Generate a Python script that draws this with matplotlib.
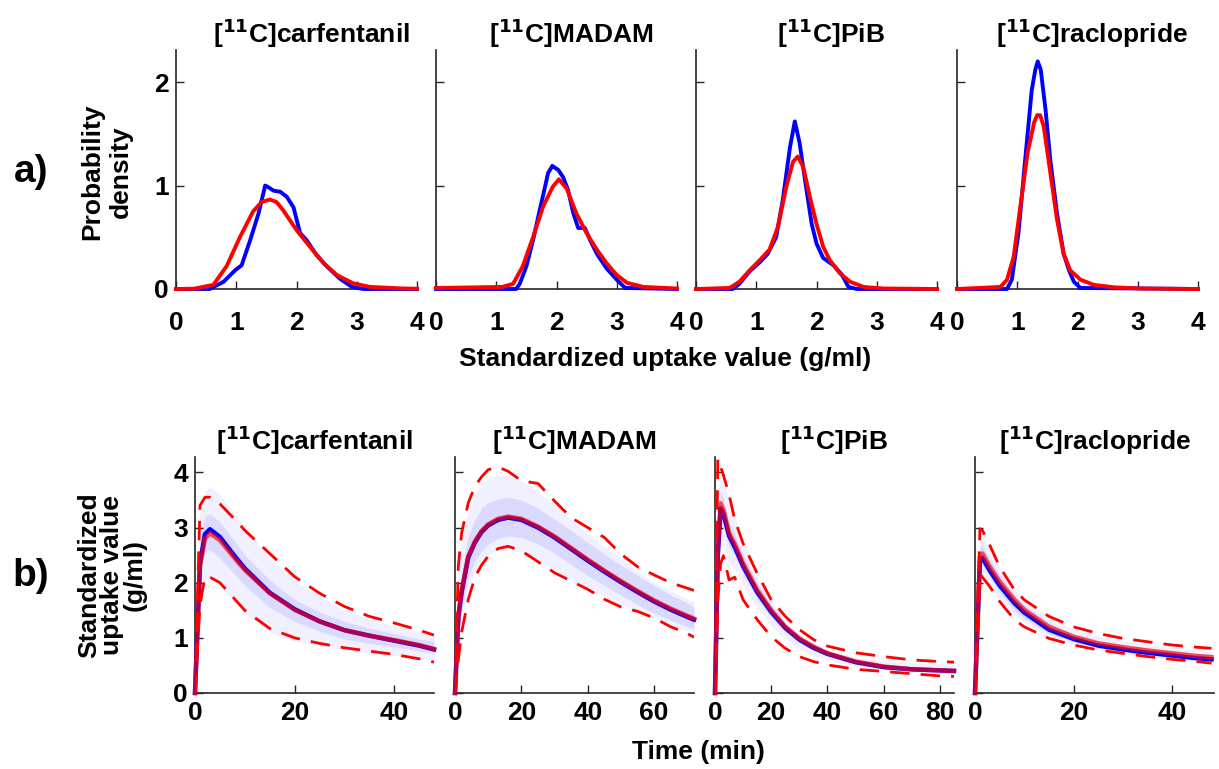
import matplotlib.pyplot as plt
import numpy as np

plt.rcParams['font.family'] = ['Liberation Sans', 'DejaVu Sans']

tracers = ["carfentanil", "MADAM", "PiB", "raclopride"]

# ---- a) SUV probability densities (blue = data, red = model) ----
pdf_blue_x = [
    [0, 0.56, 0.79, 0.98, 1.09, 1.23, 1.37, 1.48, 1.53, 1.62, 1.73, 1.84, 1.95, 2.06, 2.17, 2.33, 2.5, 2.72, 2.92, 3.11, 4.0],
    [0, 1.33, 1.39, 1.5, 1.61, 1.72, 1.78, 1.86, 1.93, 2.03, 2.11, 2.19, 2.28, 2.36, 2.47, 2.56, 2.67, 2.83, 3.0, 3.14, 4.0],
    [0, 0.61, 0.72, 0.89, 1.06, 1.19, 1.33, 1.44, 1.56, 1.64, 1.72, 1.81, 1.92, 2.0, 2.11, 2.28, 2.42, 2.53, 2.67, 4.0],
    [0, 0.83, 0.91, 1.02, 1.13, 1.24, 1.3, 1.34, 1.39, 1.47, 1.55, 1.66, 1.77, 1.86, 1.94, 2.05, 4.0],
]
pdf_blue_y = [
    [0, 0, 0.07, 0.18, 0.23, 0.47, 0.73, 1.0, 0.985, 0.95, 0.94, 0.89, 0.79, 0.54, 0.47, 0.33, 0.22, 0.10, 0.02, 0, 0],
    [0, 0, 0.05, 0.22, 0.47, 0.76, 0.91, 1.12, 1.19, 1.15, 1.08, 0.96, 0.73, 0.59, 0.59, 0.47, 0.34, 0.2, 0.09, 0.01, 0],
    [0, 0, 0.05, 0.17, 0.26, 0.34, 0.5, 0.86, 1.37, 1.62, 1.41, 1.05, 0.63, 0.44, 0.3, 0.23, 0.14, 0.02, 0, 0],
    [0, 0, 0.09, 0.54, 1.24, 1.92, 2.12, 2.2, 2.12, 1.73, 1.24, 0.73, 0.34, 0.18, 0.07, 0.01, 0],
]
pdf_red_x = [
    [0, 0.3, 0.62, 0.84, 1.06, 1.28, 1.42, 1.56, 1.67, 1.78, 2.0, 2.22, 2.45, 2.67, 2.94, 3.22, 3.77, 4.0],
    [0, 1.1, 1.28, 1.44, 1.61, 1.78, 1.94, 2.04, 2.17, 2.33, 2.5, 2.67, 2.83, 3.0, 3.17, 3.44, 4.0],
    [0, 0.56, 0.72, 0.89, 1.06, 1.22, 1.36, 1.5, 1.61, 1.69, 1.78, 1.89, 2.0, 2.11, 2.22, 2.39, 2.56, 2.78, 3.11, 4.0],
    [0, 0.72, 0.83, 0.94, 1.05, 1.17, 1.28, 1.33, 1.38, 1.44, 1.55, 1.66, 1.77, 1.88, 2.05, 2.27, 2.61, 3.05, 4.0],
]
pdf_red_y = [
    [0.0, 0.003, 0.04, 0.22, 0.5, 0.75, 0.84, 0.865, 0.84, 0.76, 0.57, 0.41, 0.25, 0.135, 0.055, 0.02, 0.005, 0.003],
    [0.01, 0.02, 0.05, 0.22, 0.5, 0.8, 0.99, 1.06, 0.97, 0.73, 0.54, 0.38, 0.25, 0.135, 0.06, 0.02, 0.005],
    [0.0, 0.01, 0.07, 0.18, 0.28, 0.38, 0.6, 0.99, 1.23, 1.28, 1.18, 0.89, 0.63, 0.41, 0.28, 0.15, 0.07, 0.02, 0.005, 0.0],
    [0, 0.02, 0.09, 0.31, 0.79, 1.31, 1.61, 1.68, 1.68, 1.57, 1.12, 0.67, 0.34, 0.18, 0.09, 0.04, 0.016, 0.005, 0],
]

# ---- b) time-activity curves ----
tac_time = [
    [0, 1, 2, 3, 5, 8, 10, 15, 20, 25, 30, 35, 40, 45, 48],
    [0, 1, 2, 4, 6, 8, 10, 13, 16, 20, 25, 30, 35, 40, 45, 50, 55, 60, 65, 70, 72],
    [0, 1, 2, 3, 5, 7, 10, 15, 20, 25, 30, 35, 40, 50, 60, 70, 80, 85],
    [0, 1, 1.5, 3, 5, 8, 10, 15, 20, 25, 30, 35, 40, 45, 48],
]
tac_xmax = [48, 72, 85, 48.5]
tac_xticks = [[0, 20, 40], [0, 20, 40, 60], [0, 20, 40, 60, 80], [0, 20, 40]]

tac_mean_blue = [
    [0, 2.35, 2.88, 2.97, 2.83, 2.48, 2.26, 1.82, 1.52, 1.30, 1.14, 1.04, 0.95, 0.86, 0.79],
    [0, 1.38, 1.83, 2.46, 2.73, 2.92, 3.04, 3.14, 3.18, 3.14, 3.0, 2.82, 2.61, 2.4, 2.2, 2.01, 1.83, 1.66, 1.51, 1.38, 1.33],
    [0, 2.5, 3.35, 3.25, 2.85, 2.65, 2.3, 1.83, 1.47, 1.18, 0.97, 0.82, 0.71, 0.56, 0.47, 0.43, 0.41, 0.40],
    [0, 2.4, 2.45, 2.22, 1.95, 1.63, 1.46, 1.15, 0.98, 0.86, 0.79, 0.73, 0.68, 0.63, 0.61],
]
tac_mean_red = [
    [0, 2.3, 2.8, 2.9, 2.77, 2.44, 2.23, 1.81, 1.51, 1.30, 1.14, 1.04, 0.96, 0.87, 0.80],
    [0, 1.4, 1.85, 2.48, 2.75, 2.94, 3.06, 3.16, 3.2, 3.16, 3.02, 2.84, 2.63, 2.42, 2.22, 2.03, 1.85, 1.68, 1.53, 1.4, 1.35],
    [0, 2.6, 3.44, 3.32, 2.9, 2.71, 2.35, 1.87, 1.5, 1.2, 0.99, 0.84, 0.72, 0.57, 0.48, 0.43, 0.41, 0.40],
    [0, 2.47, 2.53, 2.29, 2.02, 1.69, 1.51, 1.2, 1.02, 0.9, 0.83, 0.77, 0.72, 0.67, 0.65],
]
tac_dash_hi = [
    [0, 3.4, 3.55, 3.55, 3.43, 3.15, 2.95, 2.53, 2.11, 1.81, 1.57, 1.39, 1.27, 1.14, 1.05],
    [0, 2.3, 2.9, 3.45, 3.75, 3.92, 4.05, 4.1, 4.02, 3.85, 3.8, 3.48, 3.18, 3.0, 2.82, 2.52, 2.29, 2.14, 2.0, 1.9, 1.86],
    [0, 4.25, 4.1, 3.95, 3.6, 3.15, 2.71, 2.17, 1.69, 1.39, 1.15, 0.97, 0.85, 0.73, 0.66, 0.6, 0.57, 0.56],
    [0, 2.98, 2.95, 2.68, 2.29, 1.87, 1.69, 1.39, 1.2, 1.08, 0.99, 0.93, 0.87, 0.83, 0.81],
]
tac_dash_lo = [
    [0, 1.6, 2.11, 2.1, 2.0, 1.7, 1.5, 1.17, 1.0, 0.9, 0.82, 0.76, 0.7, 0.62, 0.56],
    [0, 0.6, 1.1, 1.7, 2.1, 2.32, 2.48, 2.62, 2.66, 2.58, 2.38, 2.18, 2.03, 1.88, 1.7, 1.56, 1.48, 1.36, 1.2, 1.08, 1.01],
    [0, 1.69, 2.35, 2.49, 2.05, 2.1, 1.69, 1.33, 1.02, 0.81, 0.66, 0.57, 0.51, 0.43, 0.39, 0.35, 0.31, 0.30],
    [0, 2.17, 2.1, 1.93, 1.66, 1.33, 1.2, 0.99, 0.87, 0.78, 0.72, 0.66, 0.61, 0.57, 0.54],
]
# shaded percentile bands (outer and inner)
band_out_hi = [
    [0, 3.3, 3.65, 3.75, 3.6, 3.25, 3.0, 2.45, 2.05, 1.75, 1.5, 1.35, 1.22, 1.1, 1.05],
    [0, 2.0, 2.8, 3.3, 3.6, 3.8, 3.9, 3.95, 3.95, 3.85, 3.65, 3.4, 3.15, 2.9, 2.65, 2.45, 2.2, 2.0, 1.85, 1.7, 1.65],
    [0, 3.6, 4.0, 3.9, 3.5, 3.2, 2.75, 2.1, 1.65, 1.3, 1.05, 0.9, 0.78, 0.65, 0.58, 0.55, 0.53, 0.52],
    [0, 2.85, 2.85, 2.6, 2.3, 1.9, 1.7, 1.37, 1.16, 1.03, 0.95, 0.88, 0.82, 0.77, 0.75],
]
band_out_lo = [
    [0, 1.9, 2.05, 2.1, 1.95, 1.65, 1.45, 1.1, 0.95, 0.85, 0.78, 0.72, 0.68, 0.62, 0.6],
    [0, 0.8, 1.3, 1.9, 2.2, 2.4, 2.5, 2.6, 2.62, 2.55, 2.4, 2.22, 2.05, 1.9, 1.75, 1.6, 1.47, 1.35, 1.24, 1.13, 1.1],
    [0, 1.8, 2.7, 2.7, 2.35, 2.25, 1.95, 1.55, 1.22, 0.98, 0.8, 0.68, 0.6, 0.48, 0.41, 0.38, 0.35, 0.34],
    [0, 2.1, 2.15, 1.95, 1.7, 1.4, 1.27, 1.02, 0.88, 0.78, 0.71, 0.66, 0.61, 0.57, 0.55],
]
band_in_hi = [
    [0, 2.9, 3.2, 3.25, 3.1, 2.75, 2.5, 2.05, 1.7, 1.47, 1.3, 1.18, 1.08, 0.98, 0.93],
    [0, 1.7, 2.2, 2.85, 3.15, 3.35, 3.45, 3.52, 3.55, 3.5, 3.35, 3.15, 2.95, 2.73, 2.52, 2.32, 2.13, 1.95, 1.78, 1.63, 1.57],
    [0, 2.9, 3.65, 3.55, 3.1, 2.9, 2.52, 2.0, 1.6, 1.28, 1.05, 0.89, 0.77, 0.61, 0.52, 0.47, 0.45, 0.44],
    [0, 2.65, 2.68, 2.43, 2.15, 1.79, 1.6, 1.28, 1.08, 0.96, 0.88, 0.82, 0.77, 0.72, 0.7],
]
band_in_lo = [
    [0, 2.2, 2.55, 2.6, 2.45, 2.15, 1.95, 1.55, 1.3, 1.12, 0.98, 0.9, 0.84, 0.76, 0.72],
    [0, 1.1, 1.5, 2.1, 2.4, 2.57, 2.7, 2.8, 2.85, 2.82, 2.7, 2.53, 2.33, 2.13, 1.95, 1.77, 1.6, 1.45, 1.32, 1.2, 1.16],
    [0, 2.2, 3.1, 3.05, 2.65, 2.5, 2.15, 1.72, 1.38, 1.1, 0.91, 0.77, 0.66, 0.52, 0.44, 0.4, 0.38, 0.37],
    [0, 2.25, 2.32, 2.1, 1.82, 1.5, 1.35, 1.08, 0.93, 0.82, 0.75, 0.7, 0.65, 0.6, 0.58],
]

W, H = 1219, 769
fig = plt.figure(figsize=(W / 100, H / 100), dpi=100)

dark = '#262626'
fs = 19


def px_axes(left, top, right, bottom):
    return fig.add_axes([left / W, 1 - bottom / H, (right - left) / W, (bottom - top) / H])


def style(ax, xpad):
    for s in ['top', 'right']:
        ax.spines[s].set_visible(False)
    for s in ['left', 'bottom']:
        ax.spines[s].set_color(dark)
        ax.spines[s].set_linewidth(1.2)
    ax.tick_params(direction='in', length=6, width=1, colors=dark,
                   labelsize=fs, labelcolor='black')
    ax.tick_params(axis='x', pad=xpad)
    ax.tick_params(axis='y', pad=5)
    for lab in ax.get_xticklabels() + ax.get_yticklabels():
        lab.set_fontweight('bold')


top_left = [176, 436, 696, 957]
bot_left = [195, 455, 715, 975]

for i, name in enumerate(tracers):
    ax = px_axes(top_left[i], 50, top_left[i] + 241, 289)
    ax.plot(pdf_blue_x[i], pdf_blue_y[i], color='blue', lw=2.8, clip_on=False, zorder=3)
    ax.plot(pdf_red_x[i], pdf_red_y[i], color='red', lw=2.8, clip_on=False, zorder=4)
    ax.set_xlim(0, 4)
    ax.set_ylim(0, 2.31)
    ax.set_xticks([0, 1, 2, 3, 4])
    ax.set_yticks([0, 1, 2])
    if i > 0:
        ax.set_yticklabels([])
    style(ax, 16)
    ax.text(0.56, 1.0, r'[$^{\mathbf{11}}$C]' + name, transform=ax.transAxes,
            ha='center', va='bottom', fontsize=fs, fontweight='bold')

for i, name in enumerate(tracers):
    ax = px_axes(bot_left[i], 457, bot_left[i] + 239, 693)
    t = tac_time[i]
    ax.fill_between(t, band_out_lo[i], band_out_hi[i], color='blue', alpha=0.06, lw=0)
    ax.fill_between(t, band_in_lo[i], band_in_hi[i], color='blue', alpha=0.09, lw=0)
    ax.plot(t, tac_mean_blue[i], color='blue', lw=3.2, zorder=3, clip_on=False)
    ax.plot(t, tac_mean_red[i], color='red', lw=3.2, alpha=0.68, zorder=4, clip_on=False)
    ax.plot(t, tac_dash_hi[i], color='red', lw=2.0, dashes=(7, 4), zorder=5)
    ax.plot(t, tac_dash_lo[i], color='red', lw=2.0, dashes=(7, 4), zorder=5)
    ax.set_xlim(0, tac_xmax[i])
    ax.set_ylim(0, 4.28)
    ax.set_xticks(tac_xticks[i])
    ax.set_yticks([0, 1, 2, 3, 4])
    if i > 0:
        ax.set_yticklabels([])
    style(ax, 6)
    ax.set_title(r'[$^{\mathbf{11}}$C]' + name, fontsize=fs, fontweight='bold', pad=3)

fig.text(107 / W, 1 - 172 / H, 'Probability\ndensity', rotation=90, ha='center', va='center',
         multialignment='center', fontsize=fs, fontweight='bold', linespacing=1.25)
fig.text(112 / W, 1 - 575 / H, 'Standardized\nuptake value\n(g/ml)', rotation=90, ha='center',
         va='center', multialignment='center', fontsize=fs, fontweight='bold', linespacing=0.92)
fig.text(665 / W, 1 - 359 / H, 'Standardized uptake value (g/ml)', ha='center', va='center',
         fontsize=fs, fontweight='bold')
fig.text(698 / W, 1 - 752 / H, 'Time (min)', ha='center', va='center',
         fontsize=fs, fontweight='bold')
fig.text(31 / W, 1 - 172 / H, 'a)', ha='center', va='center', fontsize=28, fontweight='bold')
fig.text(31 / W, 1 - 576 / H, 'b)', ha='center', va='center', fontsize=28, fontweight='bold')

fig.savefig('out.png', dpi=100, facecolor='white')
